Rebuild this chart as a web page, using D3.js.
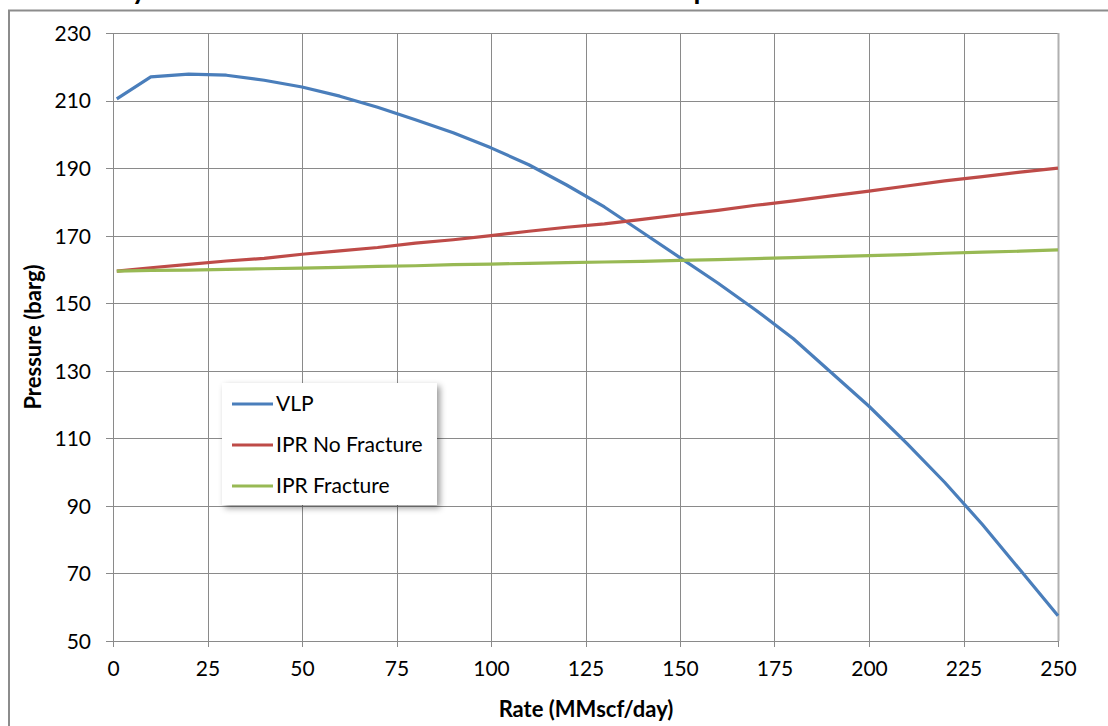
<!DOCTYPE html>
<html>
<head>
<meta charset="utf-8">
<script src="https://cdn.jsdelivr.net/npm/d3@7"></script>
<style>
  html, body { margin: 0; padding: 0; background: #fff; }
  svg { display: block; }
  text { font-family: Lato, "Open Sans", sans-serif; fill: #000; }
</style>
</head>
<body>
<svg id="chart" width="1108" height="726"></svg>
<script>
// ---- data ----
const rates = [1, 10, 20, 30, 40, 50, 60, 70, 80, 90, 100, 110, 120, 130, 140, 150, 160, 170, 180, 190, 200, 210, 220, 230, 240, 250];
const vlp = [210.5, 217, 217.8, 217.5, 216, 214, 211.3, 208, 204.3, 200.5, 196, 191, 185, 178.5, 171, 163.5, 156, 148, 139.5, 129.5, 119.5, 108.5, 97, 84.5, 71, 57.5];
const iprNoFracture = [159.5, 160.5, 161.5, 162.5, 163.3, 164.5, 165.5, 166.5, 167.8, 168.8, 170, 171.3, 172.5, 173.5, 174.8, 176.2, 177.5, 179, 180.3, 181.8, 183.2, 184.7, 186.2, 187.5, 188.8, 190];
const iprFracture = [159.5, 159.7, 159.8, 160, 160.2, 160.4, 160.6, 160.9, 161.1, 161.4, 161.6, 161.8, 162, 162.2, 162.4, 162.7, 162.9, 163.2, 163.5, 163.8, 164.1, 164.4, 164.8, 165.1, 165.4, 165.8];
const seriesNames = ["VLP", "IPR No Fracture", "IPR Fracture"];
const seriesColors = ["#4A7EBB", "#BE4B48", "#98B954"];
const xTicks = [0, 25, 50, 75, 100, 125, 150, 175, 200, 225, 250];
const yTicks = [50, 70, 90, 110, 130, 150, 170, 190, 210, 230];
const titleText = "Total System Curve – No Fracture and Fracture Compared";
const xLabel = "Rate (MMscf/day)";
const yLabel = "Pressure (barg)";

// ---- layout ----
const svg = d3.select("#chart");
const pLeft = 113, pRight = 1058, pTop = 33, pBottom = 641;
const x = d3.scaleLinear().domain([0, 250]).range([pLeft, pRight]);
const y = d3.scaleLinear().domain([50, 230]).range([pBottom, pTop]);

// outer chart frame
svg.append("path")
  .attr("d", `M9,726 L9,10.5 L1108,10.5`)
  .attr("fill", "none").attr("stroke", "#8c8c8c").attr("stroke-width", 2);

// clipped title (only its bottom shows, as in the reference)
svg.append("text")
  .attr("x", 407).attr("y", -1)
  .attr("text-anchor", "middle")
  .style("font-weight", "bold").style("font-size", "28px")
  .text(titleText);

// gridlines
const grid = svg.append("g");
grid.selectAll("line.h").data(yTicks).enter().append("line")
  .attr("x1", pLeft - 7).attr("x2", pRight)
  .attr("y1", d => Math.round(y(d)) + 0.5).attr("y2", d => Math.round(y(d)) + 0.5)
  .attr("stroke", "#8a8a8a").attr("stroke-width", 1);
grid.selectAll("line.v").data(xTicks).enter().append("line")
  .attr("y1", pTop).attr("y2", pBottom + 6)
  .attr("x1", d => Math.round(x(d)) + 0.5).attr("x2", d => Math.round(x(d)) + 0.5)
  .attr("stroke", "#8a8a8a").attr("stroke-width", 1);
// right plot border
svg.append("line").attr("x1", pRight + 0.5).attr("x2", pRight + 0.5).attr("y1", pTop).attr("y2", pBottom)
  .attr("stroke", "#b0b0b0").attr("stroke-width", 2);

// axes labels via d3 axes (tick text only)
const yAxis = svg.append("g").attr("transform", `translate(${pLeft - 10},0)`)
  .call(d3.axisLeft(y).tickValues(yTicks).tickSize(0).tickPadding(12));
yAxis.select(".domain").remove();
yAxis.selectAll("text").style("font-size", "21px").attr("dy", "0.35em");

const xAxis = svg.append("g").attr("transform", `translate(0,${pBottom + 8})`)
  .call(d3.axisBottom(x).tickValues(xTicks).tickSize(0).tickPadding(12));
xAxis.select(".domain").remove();
xAxis.selectAll("text").style("font-size", "21px");

svg.append("text").attr("x", 586).attr("y", 717).attr("text-anchor", "middle")
  .style("font-weight", "bold").style("font-size", "22px").text(xLabel);
svg.append("text").attr("transform", "translate(41,337) rotate(-90)").attr("text-anchor", "middle")
  .style("font-weight", "bold").style("font-size", "22px").text(yLabel);

// lines
const allSeries = [vlp, iprNoFracture, iprFracture];
const line = d3.line().x((d, i) => x(rates[i])).y(d => y(d));
allSeries.forEach((s, k) => {
  svg.append("path").datum(s)
    .attr("d", line)
    .attr("fill", "none")
    .attr("stroke", seriesColors[k])
    .attr("stroke-width", 3.2)
    .attr("stroke-linejoin", "round");
});

// legend
const lg = svg.append("g").attr("transform", "translate(222,383)");
const defs = svg.append("defs");
const f = defs.append("filter").attr("id", "shadow").attr("x", "-10%").attr("y", "-10%").attr("width", "130%").attr("height", "130%");
f.append("feDropShadow").attr("dx", 3).attr("dy", 3).attr("stdDeviation", 3).attr("flood-color", "#000").attr("flood-opacity", 0.4);
lg.append("rect").attr("width", 215).attr("height", 122).attr("fill", "#fff").attr("filter", "url(#shadow)");
seriesNames.forEach((n, i) => {
  const yy = 21 + i * 41;
  lg.append("line").attr("x1", 10).attr("x2", 51).attr("y1", yy).attr("y2", yy)
    .attr("stroke", seriesColors[i]).attr("stroke-width", 3.2);
  lg.append("text").attr("x", 54).attr("y", yy).attr("dy", "0.35em")
    .style("font-size", "21px").text(n);
});
</script>
</body>
</html>
